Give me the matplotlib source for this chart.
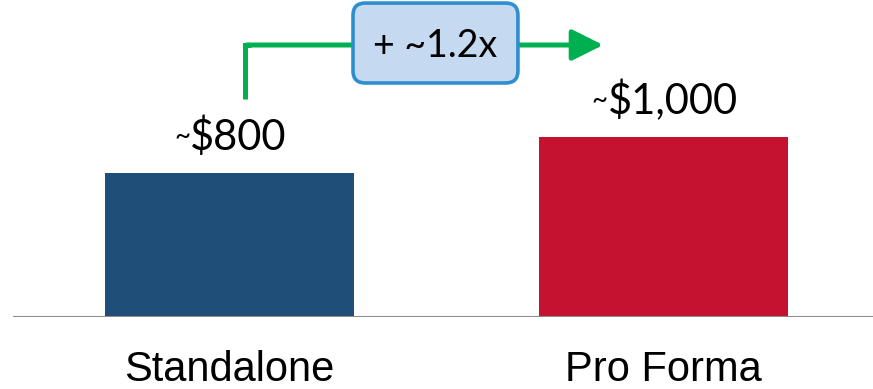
import matplotlib.pyplot as plt
from matplotlib.patches import FancyBboxPatch

# data
categories = ["Standalone", "Pro Forma"]
values = [800, 1000]
value_labels = ["$800", "$1,000"]
bar_colors = ["#1F4E79", "#C41230"]
growth_label = "+ ~1.2x"

fig = plt.figure(figsize=(8.73, 3.89), dpi=100)
ax = fig.add_axes([13 / 873, 72 / 389, 860 / 873, 317 / 389])

x = range(len(categories))
ax.bar(x, values, width=0.574, color=bar_colors, zorder=2)
ax.axhline(0, color="#8C8C8C", linewidth=1.5, zorder=3)

ax.set_xlim(-0.4988, 1.4827)
ax.set_ylim(0, 1761)

# value labels with a small tilde in front
for xi, v, lab in zip(x, values, value_labels):
    t = ax.annotate(lab, xy=(xi, v), xytext=(9, 23), textcoords="offset pixels",
                    ha="center", va="baseline", fontsize=30, family="Lato", color="black")
    ax.annotate("~", xy=(0, v), xycoords=(t, "data"), xytext=(0, 27),
                textcoords="offset pixels", ha="right", va="baseline",
                fontsize=20, family="Lato", color="black")

# green elbow arrow
green = "#00B050"
ax.plot([0.0357, 0.0357, 0.05], [1211, 1511, 1511], color=green, linewidth=3.6,
        solid_joinstyle="miter", solid_capstyle="butt", zorder=4)
ax.annotate("", xy=(0.861, 1511), xytext=(0.04, 1511),
            arrowprops=dict(arrowstyle="-|>,head_length=19,head_width=9.5", mutation_scale=1,
                            color=green, linewidth=3.6, shrinkA=0, shrinkB=0), zorder=4)

# multiple box
box = FancyBboxPatch((0.2846, 1300), 0.380, 444,
                     boxstyle="round,pad=0,rounding_size=0.028",
                     mutation_aspect=2411, facecolor="#C5DAF1", edgecolor="#2E8FD0",
                     linewidth=2.6, zorder=5)
ax.add_patch(box)
ax.text(0.4747, 1506, growth_label, ha="center", va="center", fontsize=27,
        family="Lato", color="black", zorder=6)

ax.set_xticks(list(x))
ax.set_xticklabels(categories, fontsize=30, family="Liberation Sans")
ax.tick_params(axis="x", length=0, pad=24)
ax.set_yticks([])
for s in ax.spines.values():
    s.set_visible(False)

fig.savefig("out.png", dpi=100)
